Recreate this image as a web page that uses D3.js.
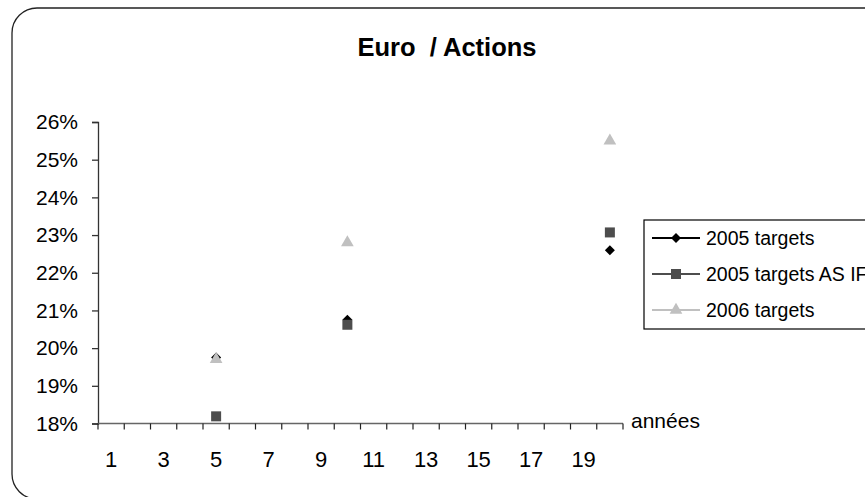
<!DOCTYPE html>
<html><head><meta charset="utf-8">
<script src="https://cdn.jsdelivr.net/npm/d3@7"></script>
<style>
html,body{margin:0;padding:0;background:#fff;overflow:hidden;}
svg{display:block;font-family:Arial,"Liberation Sans",sans-serif;}
</style></head>
<body>
<svg id="chart" width="865" height="497"></svg>
<script>
const title = "Euro  / Actions";
const xCategories = d3.range(1, 21);
const xTickLabels = [1, 3, 5, 7, 9, 11, 13, 15, 17, 19];
const yTickValues = [0.18, 0.19, 0.20, 0.21, 0.22, 0.23, 0.24, 0.25, 0.26];
const pointYears = [5, 10, 20];
const targets2005 = [0.1975, 0.2075, 0.2260];
const targets2005AsIf = [0.1819, 0.2062, 0.2307];
const targets2006 = [0.1970, 0.2280, 0.2550];
const seriesNames = ["2005 targets", "2005 targets AS IF", "2006 targets"];
const xAxisLabel = "années";

const series = [
  {name: seriesNames[0], values: targets2005, color: "#000000", shape: d3.symbolDiamond2, size: 64},
  {name: seriesNames[1], values: targets2005AsIf, color: "#4d4d4d", shape: d3.symbolSquare, size: 100},
  {name: seriesNames[2], values: targets2006, color: "#c0c0c0", shape: d3.symbolTriangle, size: 70}
];

const svg = d3.select("#chart");

// outer rounded border
svg.append("rect").attr("x", 12).attr("y", 8).attr("width", 900).attr("height", 491)
  .attr("rx", 25).attr("ry", 25).attr("fill", "#fff").attr("stroke", "#222").attr("stroke-width", 1.3);

// title
svg.append("text").attr("x", 447).attr("y", 56).attr("text-anchor", "middle")
  .attr("font-size", 25.5).attr("font-weight", "bold").attr("fill", "#000")
  .style("white-space", "pre").text(title);

const x = d3.scaleBand().domain(xCategories).range([98, 623]);
const y = d3.scaleLinear().domain([0.18, 0.26]).range([423.5, 122]);

// y axis
const yAxis = d3.axisLeft(y).tickValues(yTickValues).tickFormat(d3.format(".0%")).tickSize(6).tickPadding(14);
const gy = svg.append("g").attr("transform", "translate(98,0)").call(yAxis);
gy.select(".domain").attr("stroke", "#333").attr("stroke-width", 1.3);
gy.selectAll(".tick line").attr("stroke", "#333").attr("stroke-width", 1.3);
gy.selectAll(".tick text").attr("font-size", 21).attr("fill", "#000").attr("font-family", "Arial, 'Liberation Sans', sans-serif");

// x axis: ticks at category boundaries
const gx = svg.append("g");
gx.append("line").attr("x1", x.range()[0]).attr("x2", x.range()[1])
  .attr("y1", y(0.18)).attr("y2", y(0.18)).attr("stroke", "#666").attr("stroke-width", 1.6);
const boundaries = xCategories.map(c => x(c)).concat([x(xCategories[xCategories.length - 1]) + x.bandwidth()]);
gx.selectAll("line.tk").data(boundaries).enter().append("line").attr("class", "tk")
  .attr("x1", d => d).attr("x2", d => d).attr("y1", y(0.18)).attr("y2", y(0.18) + 6)
  .attr("stroke", "#222").attr("stroke-width", 1.2);
gx.selectAll("text.lb").data(xTickLabels).enter().append("text").attr("class", "lb")
  .attr("x", d => x(d) + x.bandwidth() / 2).attr("y", 467)
  .attr("text-anchor", "middle").attr("font-size", 22).attr("fill", "#000").text(d => d);
svg.append("text").attr("x", 631).attr("y", 428).attr("font-size", 21).attr("fill", "#000").text(xAxisLabel);

// markers
series.forEach(s => {
  svg.append("g").selectAll("path").data(s.values).enter().append("path")
    .attr("transform", (d, i) => `translate(${x(pointYears[i]) + x.bandwidth() / 2},${y(d)})`)
    .attr("d", d3.symbol().type(s.shape).size(s.size))
    .attr("fill", s.color);
});

// legend
const lg = svg.append("g");
lg.append("rect").attr("x", 644).attr("y", 220).attr("width", 300).attr("height", 109)
  .attr("fill", "#fff").attr("stroke", "#000").attr("stroke-width", 1.2);
const legendRows = [238, 274, 310];
series.forEach((s, i) => {
  const yy = legendRows[i];
  lg.append("line").attr("x1", 652).attr("x2", 700).attr("y1", yy).attr("y2", yy)
    .attr("stroke", s.color).attr("stroke-width", 2);
  lg.append("path").attr("transform", `translate(676,${yy})`)
    .attr("d", d3.symbol().type(s.shape).size(s.size)).attr("fill", s.color);
  lg.append("text").attr("x", 706).attr("y", yy + 7).attr("font-size", 19.5).attr("fill", "#000").text(s.name);
});
</script>
</body></html>
